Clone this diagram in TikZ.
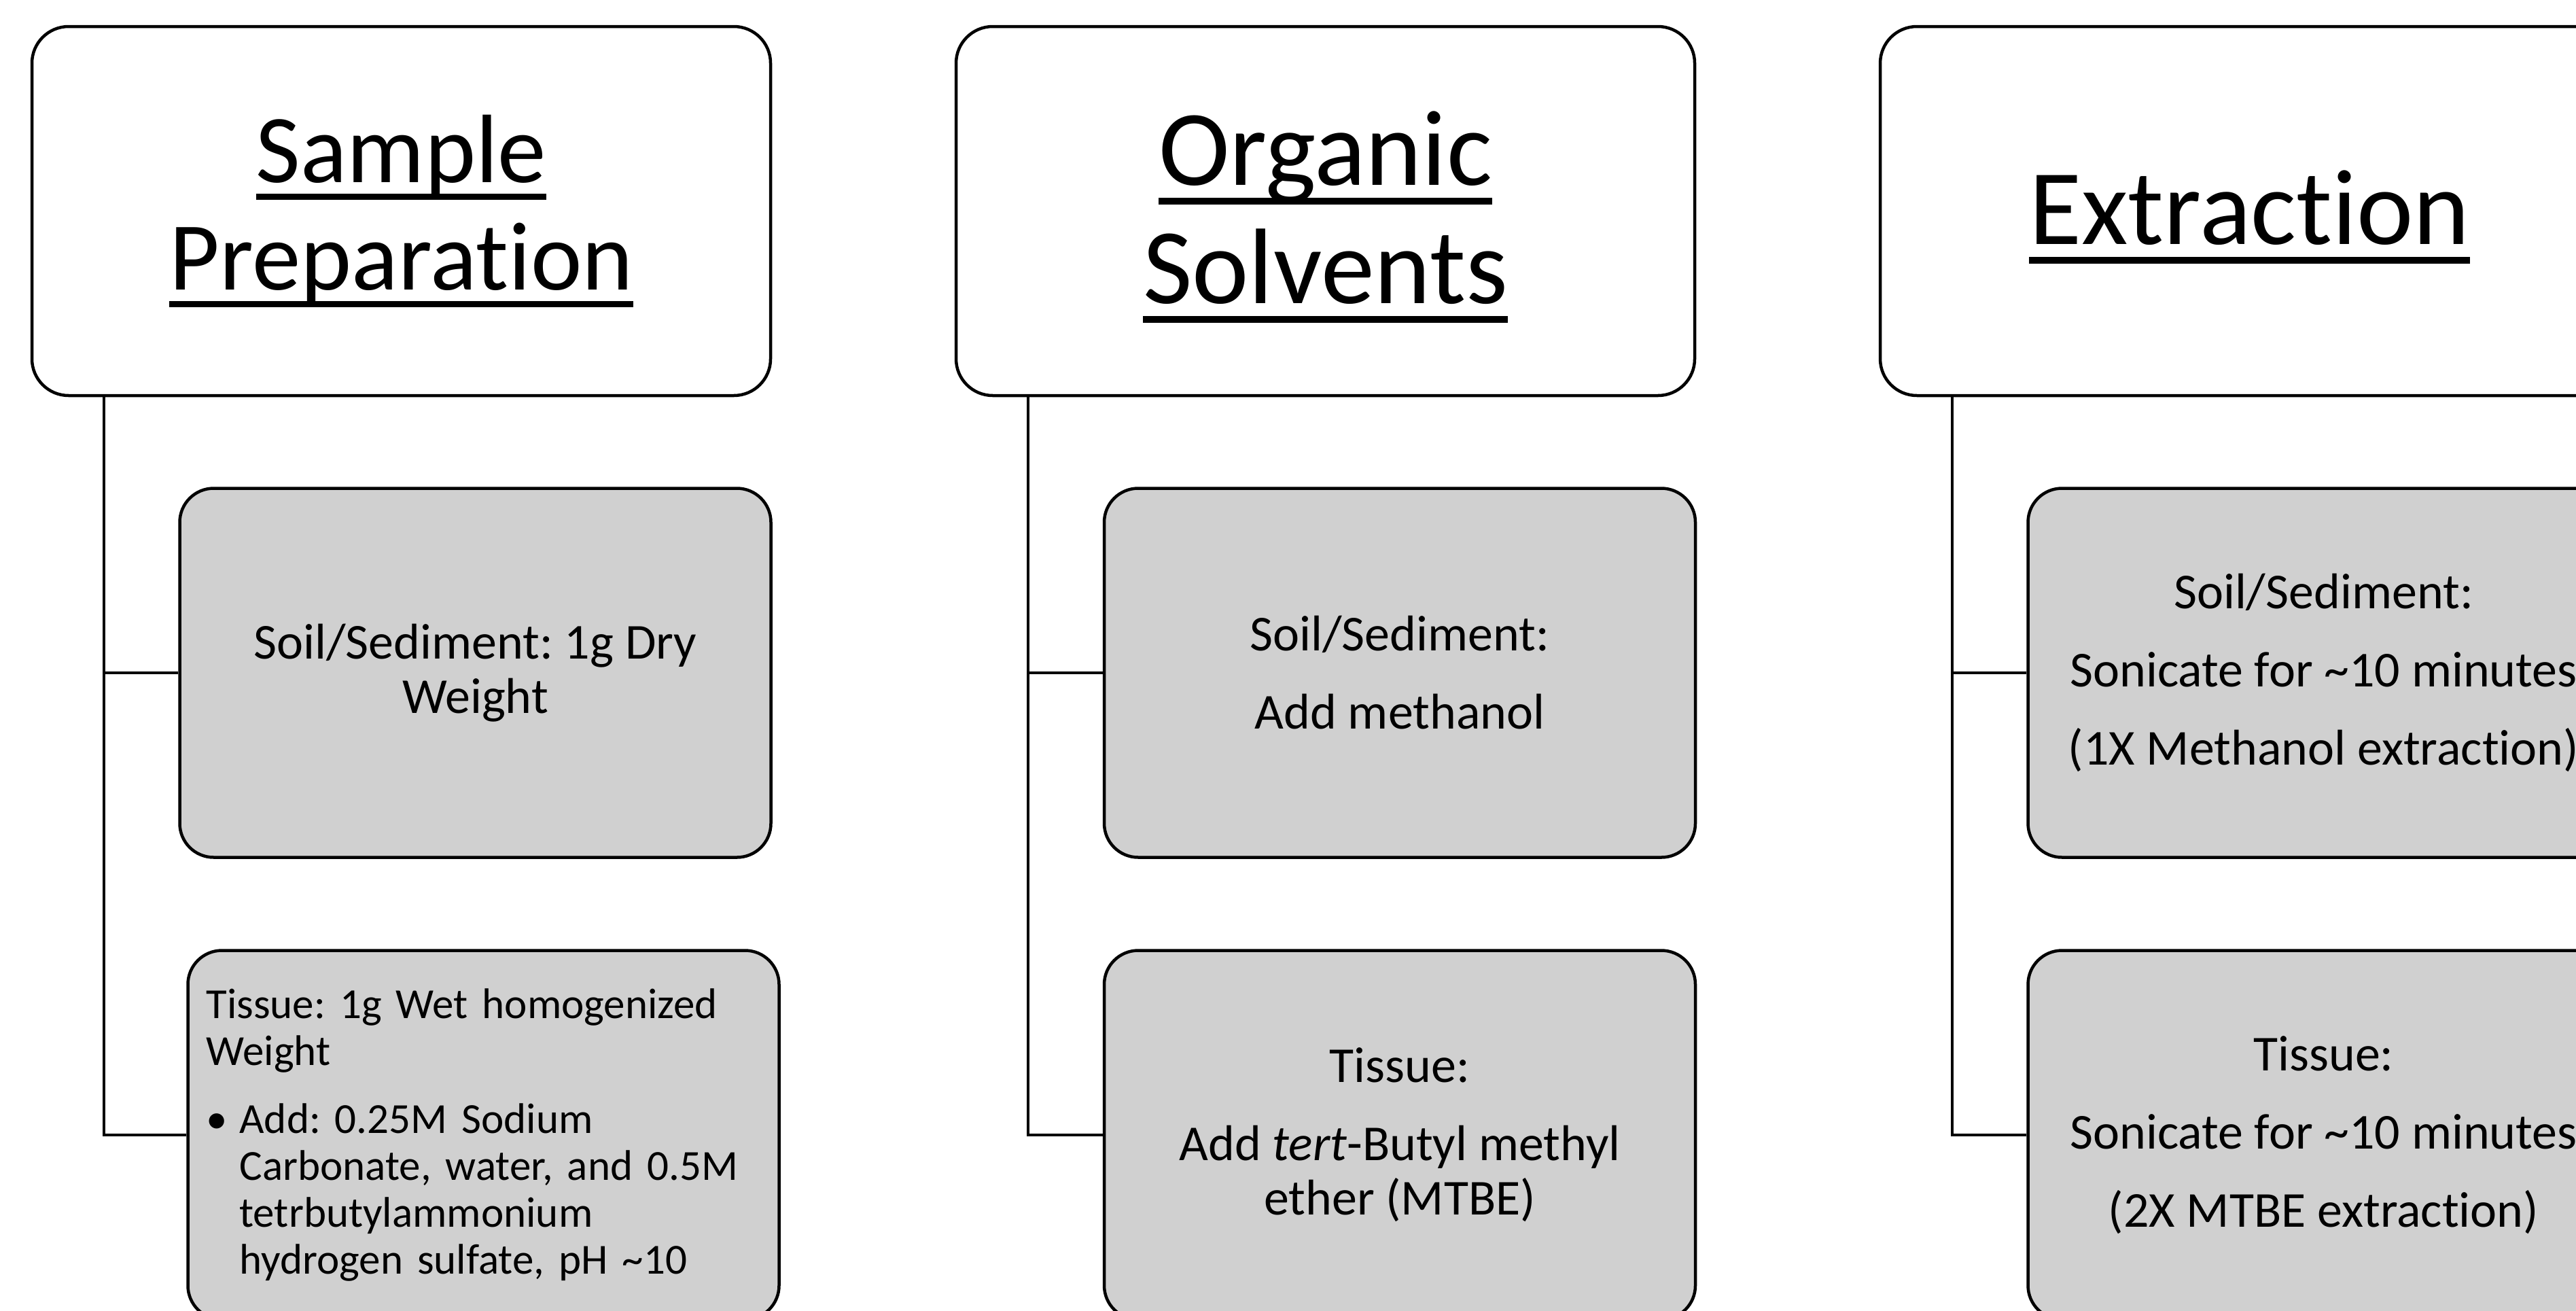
\documentclass[tikz,border=0pt]{standalone}
\usepackage{fontspec}
\setmainfont{Carlito}[Ligatures=NoCommon]
\frenchspacing
\definecolor{boxgray}{RGB}{208,208,208}
\newcommand\hul[1]{\setbox0=\hbox{#1}\rlap{\rule[-0.178em]{\wd0}{0.06em}}\box0}
\tikzset{
  hdr/.style={draw, line width=1.28pt, rounded corners=0.54cm, minimum width=10.87cm,
              minimum height=5.43cm, inner sep=0pt, align=center,
              font=\fontsize{44.96}{49.5}\selectfont},
  sub/.style={draw, fill=boxgray, line width=1.28pt, rounded corners=0.5cm, minimum width=8.70cm,
              minimum height=5.43cm, inner sep=0pt, align=center,
              font=\fontsize{21.05}{22.76}\selectfont},
  conn/.style={line width=1.28pt},
}
\begin{document}
\frenchspacing
\begin{tikzpicture}
\path[use as bounding box] (0,0) rectangle (37.91,-19.28);
\clip (0,0) rectangle (37.91,-19.28);
% headers
\node[hdr, font=\fontsize{40.7}{44.95}\selectfont] (h1) at (5.905,-3.105) {\hul{Sample}\\\hul{Preparation}};
\node[hdr] (h2) at (19.505,-3.105) {\rule{0pt}{0.8em}\hul{Organic}\\\hul{Solvents}};
\node[hdr] (h3) at (33.105,-3.105) {\rule{0pt}{0.8em}\hul{Extraction}};
% column 1
\node[sub] (c1a) at (6.995,-9.90) {Soil/Sediment: 1g Dry\\Weight};
\node[sub, align=left, text width=8.16cm, inner xsep=0.27cm,
      font=\fontsize{17.93}{19.63}\selectfont\frenchspacing] (c1b) at (7.115,-16.70)
  {Tissue: 1g Wet homogenized\\Weight\\[0.31cm]%
   \makebox[0.49cm][l]{•}Add: 0.25M Sodium\\
   \hspace*{0.49cm}Carbonate, water, and 0.5M\\
   \hspace*{0.49cm}tetrbutylammonium\\
   \hspace*{0.49cm}hydrogen sulfate, pH \textasciitilde10};
% column 2
\node[sub] (c2a) at (20.60,-9.90) {Soil/Sediment:\\[0.35cm]Add methanol};
\node[sub] (c2b) at (20.60,-16.70) {Tissue:\\[0.35cm]Add \textit{tert}-Butyl methyl\\ether (MTBE)};
% column 3
\node[sub] (c3a) at (34.195,-9.90) {Soil/Sediment:\\[0.35cm]Sonicate for \textasciitilde10 minutes\\[0.35cm](1X Methanol extraction)};
\node[sub] (c3b) at (34.195,-16.70) {Tissue:\\[0.35cm]Sonicate for \textasciitilde10 minutes\\[0.35cm](2X MTBE extraction)};
% connectors
\draw[conn] ([xshift=1.08cm]h1.south west) |- (c1a.west);
\draw[conn] ([xshift=1.08cm]h1.south west) |- (c1b.west);
\draw[conn] ([xshift=1.08cm]h2.south west) |- (c2a.west);
\draw[conn] ([xshift=1.08cm]h2.south west) |- (c2b.west);
\draw[conn] ([xshift=1.08cm]h3.south west) |- (c3a.west);
\draw[conn] ([xshift=1.08cm]h3.south west) |- (c3b.west);
\end{tikzpicture}
\end{document}
